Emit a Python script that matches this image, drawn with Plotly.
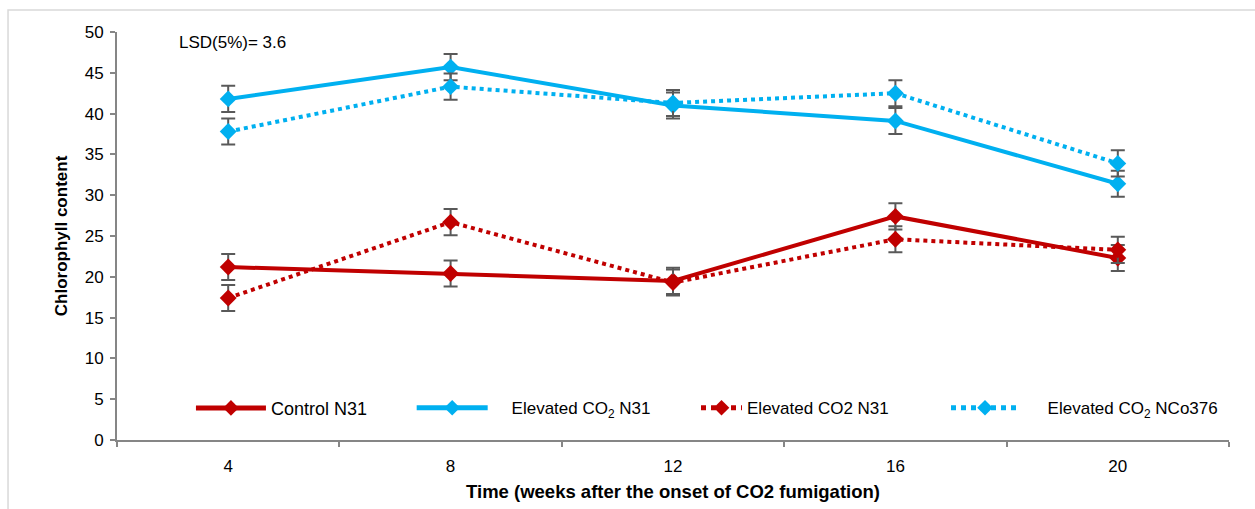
import plotly.graph_objects as go

# Sampling times (weeks after the onset of CO2 fumigation)
weeks = ["4", "8", "12", "16", "20"]

# Chlorophyll content per treatment / variety
control_n31 = [21.2, 20.4, 19.5, 27.4, 22.3]
elev_co2_n31 = [41.8, 45.7, 41.0, 39.1, 31.4]
elev_co2_n31_b = [17.4, 26.7, 19.3, 24.6, 23.3]
elev_co2_nco376 = [37.8, 43.3, 41.3, 42.5, 33.9]

# Standard error of each mean
err_control_n31 = [1.6, 1.6, 1.6, 1.6, 1.6]
err_elev_co2_n31 = [1.6, 1.6, 1.6, 1.6, 1.6]
err_elev_co2_n31_b = [1.6, 1.6, 1.6, 1.6, 1.6]
err_elev_co2_nco376 = [1.6, 1.6, 1.6, 1.6, 1.6]

RED = "#C00000"
BLUE = "#00B0F0"
ERR = "#595959"
FONT = "Liberation Sans, Arial, sans-serif"
NB = "\u00a0"

series = [
    ("Control N31", control_n31, err_control_n31, RED, "solid", "legend"),
    (NB * 4 + "Elevated CO<sub>2</sub> N31", elev_co2_n31, err_elev_co2_n31, BLUE, "solid", "legend2"),
    ("Elevated CO2 N31", elev_co2_n31_b, err_elev_co2_n31_b, RED, "dot", "legend3"),
    (NB * 5 + "Elevated CO<sub>2</sub> NCo376", elev_co2_nco376, err_elev_co2_nco376, BLUE, "dot", "legend4"),
]

fig = go.Figure()
for name, vals, errs, color, dash, leg in series:
    fig.add_trace(go.Scatter(
        x=weeks, y=vals, name=name, mode="lines+markers",
        line=dict(color=color, width=4, dash=dash),
        marker=dict(symbol="diamond", size=13, color=color),
        error_y=dict(type="data", array=errs, visible=True,
                     color=ERR, thickness=2, width=7),
        legend=leg, showlegend=True,
    ))


def legend_box(x, item_w, size=17):
    return dict(
        orientation="h", yanchor="middle", y=0.078, x=x, xanchor="left",
        bgcolor="rgba(0,0,0,0)", font=dict(family=FONT, size=size, color="#000000"),
        itemwidth=item_w, itemsizing="constant", tracegroupgap=0, visible=True,
    )


fig.update_layout(
    width=1255, height=509,
    margin=dict(l=117, r=26, t=32, b=69, autoexpand=False),
    paper_bgcolor="white", plot_bgcolor="white",
    font=dict(family=FONT, size=17, color="#000000"),
    showlegend=True,
    legend=legend_box(0.0665, 70, 18),
    legend2=legend_box(0.265, 71),
    legend3=legend_box(0.5207, 41),
    legend4=legend_box(0.7455, 68),
    xaxis=dict(
        type="category", range=[-0.5, 4.5], tickson="boundaries",
        ticks="outside", ticklen=5, tickcolor="#868686", tickwidth=1.5,
        showline=True, linecolor="#868686", linewidth=2, automargin=False,
        showgrid=False, zeroline=False, ticklabelstandoff=10,
        tickfont=dict(family=FONT, size=17),
        title=dict(text="<b>Time (weeks after the onset of CO2 fumigation)</b>",
                   font=dict(family=FONT, size=18.5), standoff=10),
    ),
    yaxis=dict(
        range=[0, 50], dtick=5, tick0=0,
        ticks="outside", ticklen=5, tickcolor="#868686", tickwidth=1.5,
        showline=True, linecolor="#868686", linewidth=2, automargin=False,
        showgrid=False, zeroline=False, ticklabelstandoff=3,
        tickfont=dict(family=FONT, size=17),
        title=dict(text="<b>Chlorophyll content</b>",
                   font=dict(family=FONT, size=17), standoff=13),
    ),
    annotations=[dict(
        text="LSD(5%)= 3.6", xref="paper", yref="paper",
        x=0.054, y=0.974, xanchor="left", yanchor="middle",
        showarrow=False, font=dict(family=FONT, size=17),
    )],
    shapes=[dict(
        type="rect", xref="paper", yref="paper",
        x0=-0.098, x1=1.2, y0=-0.3, y1=1.054,
        line=dict(color="#D9D9D9", width=1.5), layer="below",
    )],
)

fig.write_html("out.html")
